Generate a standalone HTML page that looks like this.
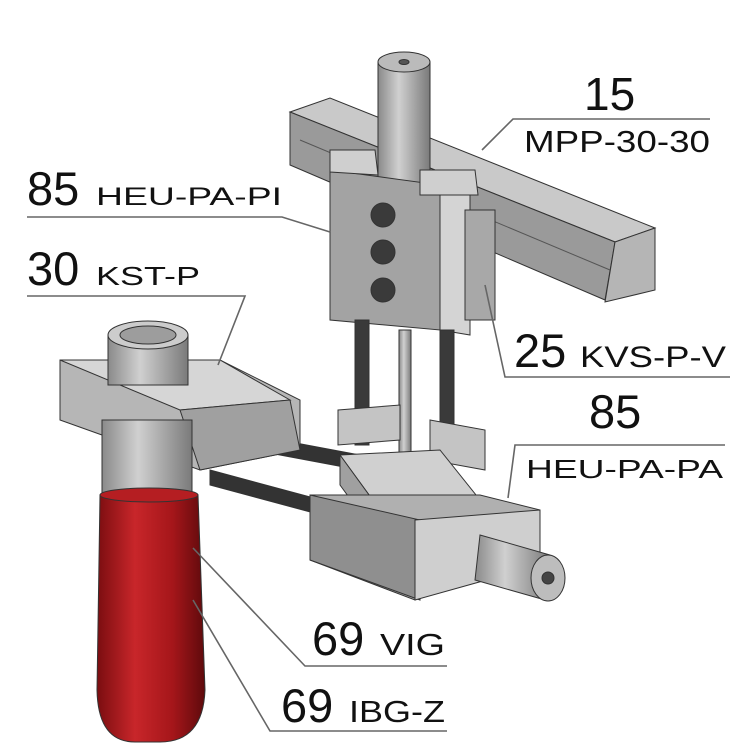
<!DOCTYPE html>
<html><head><meta charset="utf-8"><style>
html,body{margin:0;padding:0;background:#fff;}
svg{display:block}
text{font-family:"Liberation Sans",sans-serif;fill:#111;}
</style></head><body>
<svg width="750" height="750" viewBox="0 0 750 750" xmlns="http://www.w3.org/2000/svg">
<defs>
<linearGradient id="red" x1="0" x2="1" y1="0" y2="0">
<stop offset="0" stop-color="#7a0d10"/><stop offset="0.35" stop-color="#c8262a"/><stop offset="0.7" stop-color="#a5161a"/><stop offset="1" stop-color="#5e0a0c"/>
</linearGradient>
<linearGradient id="cyl" x1="0" x2="1" y1="0" y2="0">
<stop offset="0" stop-color="#8a8a8a"/><stop offset="0.4" stop-color="#d0d0d0"/><stop offset="1" stop-color="#7a7a7a"/>
</linearGradient>
</defs>
<g stroke="#333" stroke-width="1">
<polygon points="290,112 330,98 655,228 615,242" fill="#c9c9c9"/>
<polygon points="290,112 615,242 605,300 290,165" fill="#9a9a9a"/>
<polygon points="615,242 655,228 655,290 605,302" fill="#b5b5b5"/>
<line x1="300" y1="140" x2="610" y2="270" stroke="#555"/>
<rect x="378" y="62" width="52" height="140" fill="url(#cyl)"/>
<ellipse cx="404" cy="62" rx="26" ry="10" fill="#bbb"/>
<ellipse cx="404" cy="62" rx="5" ry="2.5" fill="#555"/>
<polygon points="330,170 440,185 440,330 330,320" fill="#a3a3a3"/>
<polygon points="440,185 470,190 470,335 440,330" fill="#d4d4d4"/>
<polygon points="420,170 475,170 478,195 420,195" fill="#cfcfcf"/>
<polygon points="330,150 375,150 378,175 330,172" fill="#cfcfcf"/>
<circle cx="383" cy="215" r="12" fill="#3a3a3a"/>
<circle cx="383" cy="252" r="12" fill="#3a3a3a"/>
<circle cx="383" cy="290" r="12" fill="#3a3a3a"/>
<rect x="465" y="210" width="30" height="110" fill="#a8a8a8"/>
<rect x="355" y="320" width="14" height="125" fill="#3a3a3a"/>
<rect x="399" y="330" width="12" height="130" fill="url(#cyl)"/>
<rect x="440" y="330" width="14" height="125" fill="#3a3a3a"/>
<polygon points="338,410 400,405 400,440 338,445" fill="#c4c4c4"/>
<polygon points="430,420 485,430 485,470 430,460" fill="#c4c4c4"/>
<polygon points="200,425 360,455 360,470 200,440" fill="#333"/>
<polygon points="210,470 340,505 340,520 210,485" fill="#333"/>
<polygon points="340,455 440,450 480,500 380,510" fill="#d0d0d0"/>
<polygon points="340,455 380,510 380,540 340,485" fill="#a0a0a0"/>
<polygon points="310,495 480,495 540,510 540,560 415,600 310,560" fill="#b0b0b0"/>
<polygon points="310,495 420,520 420,600 310,560" fill="#8f8f8f"/>
<polygon points="415,520 540,510 540,565 415,600" fill="#cfcfcf"/>
<polygon points="480,535 550,555 545,600 475,580" fill="url(#cyl)"/>
<ellipse cx="548" cy="578" rx="17" ry="23" fill="#bdbdbd"/>
<circle cx="548" cy="578" r="6" fill="#444"/>
<polygon points="60,360 220,360 300,400 300,450 200,470 60,420" fill="#b6b6b6"/>
<polygon points="60,360 220,360 290,400 180,410" fill="#d6d6d6"/>
<polygon points="180,410 290,400 300,450 200,470" fill="#a0a0a0"/>
<rect x="108" y="335" width="80" height="50" fill="url(#cyl)"/>
<ellipse cx="148" cy="335" rx="40" ry="14" fill="#ccc"/>
<ellipse cx="148" cy="335" rx="28" ry="9" fill="#9d9d9d"/>
<rect x="102" y="420" width="90" height="75" fill="url(#cyl)"/>
<path d="M100,495 L198,495 L205,690 Q203,742 160,742 L135,742 Q98,742 97,690 Z" fill="url(#red)"/>
<ellipse cx="149" cy="495" rx="49" ry="7" fill="#b51e22"/>
</g>
<g stroke="#666" stroke-width="1.6" fill="none">
<polyline points="710,119 513,119 482,150"/>
<polyline points="27,217 282,217 330,232"/>
<polyline points="27,296 245,296 218,365"/>
<polyline points="730,377 505,377 485,285"/>
<polyline points="725,445 515,445 508,498"/>
<polyline points="447,666 305,666 193,548"/>
<polyline points="447,731 270,731 193,600"/>
</g>
<g>
<text x="584" y="110" font-size="46">15</text>
<text x="524" y="152" font-size="31" textLength="186" lengthAdjust="spacingAndGlyphs">MPP-30-30</text>
<text x="27" y="205" font-size="47">85</text>
<text x="96" y="205" font-size="25" textLength="186" lengthAdjust="spacingAndGlyphs">HEU-PA-PI</text>
<text x="27" y="285" font-size="47">30</text>
<text x="96" y="285" font-size="26" textLength="104" lengthAdjust="spacingAndGlyphs">KST-P</text>
<text x="514" y="367" font-size="47">25</text>
<text x="580" y="367" font-size="30" textLength="146" lengthAdjust="spacingAndGlyphs">KVS-P-V</text>
<text x="589" y="428" font-size="47">85</text>
<text x="526" y="478" font-size="26" textLength="197" lengthAdjust="spacingAndGlyphs">HEU-PA-PA</text>
<text x="312" y="655" font-size="47">69</text>
<text x="380" y="655" font-size="31" textLength="65" lengthAdjust="spacingAndGlyphs">VIG</text>
<text x="281" y="722" font-size="47">69</text>
<text x="349" y="722" font-size="31" textLength="96" lengthAdjust="spacingAndGlyphs">IBG-Z</text>
</g>
</svg>
</body></html>
